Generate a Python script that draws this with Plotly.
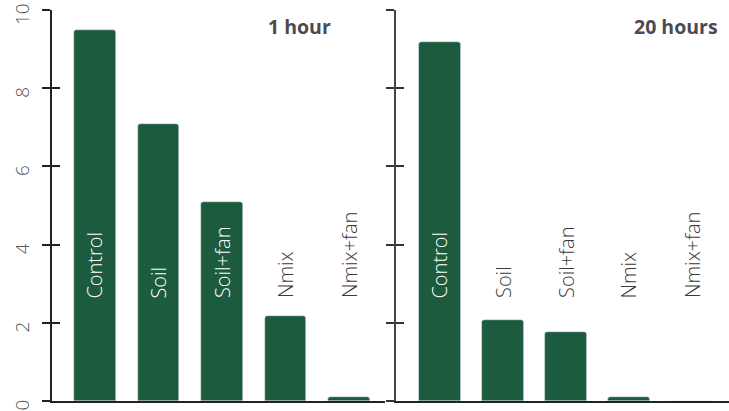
import plotly.graph_objects as go

categories = ["Control", "Soil", "Soil+fan", "Nmix", "Nmix+fan"]
values_1h = [9.5, 7.08, 5.09, 2.17, 0.1]
values_20h = [9.18, 2.07, 1.76, 0.1, 0.0]
panel_titles = ["1 hour", "20 hours"]
y_ticks = [0, 2, 4, 6, 8, 10]

BAR = "#1d5b3e"
TXT = "#3a3a3a"
LABEL_Y = 2.58
FONT = "Open Sans"

fig = go.Figure()
idx = list(range(len(categories)))

fig.add_trace(go.Bar(x=idx, y=values_1h, marker_color=BAR, width=0.66,
                     xaxis="x", yaxis="y", showlegend=False, hoverinfo="skip"))
fig.add_trace(go.Bar(x=idx, y=values_20h, marker_color=BAR, width=0.66,
                     xaxis="x2", yaxis="y2", showlegend=False, hoverinfo="skip"))

annotations = []
for xa, vals in (("x", values_1h), ("x2", values_20h)):
    for i, (cat, v) in enumerate(zip(categories, vals)):
        annotations.append(dict(
            x=i, y=LABEL_Y, xref=xa, yref="y" if xa == "x" else "y2",
            text=cat, textangle=-90, showarrow=False,
            xanchor="center", yanchor="bottom",
            font=dict(family=FONT, size=20, weight=300,
                      color="white" if v > LABEL_Y + 2.0 else TXT),
        ))

for xpos, title in zip([0.457, 0.988], panel_titles):
    annotations.append(dict(
        x=xpos, y=0.957, xref="paper", yref="paper", text=f"<b>{title}</b>",
        showarrow=False, xanchor="right", yanchor="middle",
        font=dict(family=FONT, size=19.5, color="#4a4a55"),
    ))

common_y = dict(range=[0, 10], tickvals=y_ticks, showgrid=False, zeroline=False,
                showline=True, linewidth=1.5, ticklen=8, tickwidth=1.5,
                automargin=False)

fig.update_layout(
    width=729, height=411,
    margin=dict(l=0, r=0, t=10, b=10),
    paper_bgcolor="white", plot_bgcolor="white",
    annotations=annotations,
    bargap=0,
    xaxis=dict(domain=[0.0713, 0.528], range=[-0.677, 4.567], showticklabels=False,
               ticks="", showgrid=False, zeroline=False, showline=True,
               linecolor="#222", linewidth=1.5, automargin=False),
    xaxis2=dict(domain=[0.543, 1.0], range=[-0.70, 4.59], showticklabels=False,
                ticks="", showgrid=False, zeroline=False, showline=True,
                linecolor="#222", linewidth=1.5, automargin=False),
    yaxis=dict(**common_y, anchor="x", ticks="outside", linecolor="#222",
               tickcolor="#222", tickangle=-90, ticklabelstandoff=6,
               ticklabelshift=7, ticklabeloverflow="allow",
               tickfont=dict(family=FONT, size=19, weight=300, color="#555")),
    yaxis3=dict(**common_y, anchor="x", overlaying="y", ticks="inside",
                linecolor="#222", tickcolor="#222", showticklabels=False),
    yaxis2=dict(**common_y, anchor="x2", ticks="outside", linecolor="#444",
                tickcolor="#333", showticklabels=False),
    yaxis4=dict(**common_y, anchor="x2", overlaying="y2", ticks="inside",
                linecolor="#444", tickcolor="#333", showticklabels=False),
)

# invisible traces so the overlay axes for the inner tick marks are drawn
fig.add_trace(go.Scatter(x=[None], y=[None], xaxis="x", yaxis="y3",
                         showlegend=False, hoverinfo="skip"))
fig.add_trace(go.Scatter(x=[None], y=[None], xaxis="x2", yaxis="y4",
                         showlegend=False, hoverinfo="skip"))

fig.update_traces(marker_cornerradius=3, selector=dict(type="bar"))

fig.write_html("out.html")
